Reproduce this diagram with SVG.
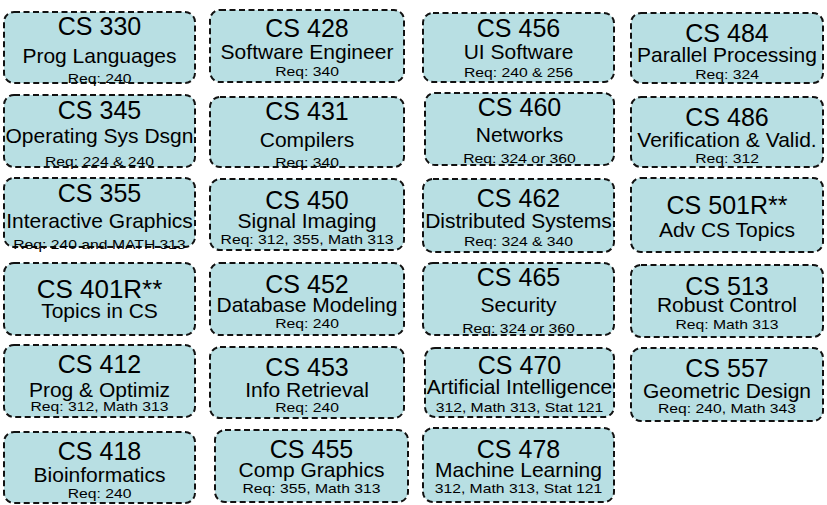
<svg xmlns="http://www.w3.org/2000/svg" width="827" height="505" viewBox="0 0 827 505">
  <style>
    .box { fill: #b8dfe3; stroke: #111; stroke-width: 2; stroke-dasharray: 6 3.5; }
    text { font-family: "Liberation Sans", Arial, sans-serif; fill: #000; text-anchor: middle; }
    .t { font-size: 25px; }
    .m { font-size: 21px; }
    .r { font-size: 13px; }
  </style>
  <rect width="827" height="505" fill="#fff"/>

  <!-- column 1 -->
  <g id="cs330">
    <rect class="box" x="4" y="12" width="191" height="71" rx="10"/>
    <text class="t" x="99.5" y="35">CS 330</text>
    <text class="m" x="99.5" y="63">Prog Languages</text>
    <text class="r" transform="translate(99.5 83) scale(1.21 1)">Req: 240</text>
  </g>
  <g id="cs345">
    <rect class="box" x="4" y="95" width="191" height="72" rx="10"/>
    <text class="t" x="99.5" y="119">CS 345</text>
    <text class="m" x="99.5" y="143">Operating Sys Dsgn</text>
    <text class="r" transform="translate(99.5 166) scale(1.21 1)">Req: 224 &amp; 240</text>
  </g>
  <g id="cs355">
    <rect class="box" x="4" y="178" width="191" height="69" rx="10"/>
    <text class="t" x="99.5" y="202">CS 355</text>
    <text class="m" x="99.5" y="228">Interactive Graphics</text>
    <text class="r" transform="translate(99.5 249) scale(1.21 1)">Req: 240 and MATH 313</text>
  </g>
  <g id="cs401r">
    <rect class="box" x="4" y="263" width="191" height="72" rx="10"/>
    <text class="t" x="99.5" y="298" style="font-size:26px">CS 401R**</text>
    <text class="m" x="99.5" y="318">Topics in CS</text>
  </g>
  <g id="cs412">
    <rect class="box" x="4" y="345" width="191" height="72" rx="10"/>
    <text class="t" x="99.5" y="373">CS 412</text>
    <text class="m" x="99.5" y="397">Prog &amp; Optimiz</text>
    <text class="r" transform="translate(99.5 411) scale(1.21 1)">Req: 312, Math 313</text>
  </g>
  <g id="cs418">
    <rect class="box" x="4" y="432" width="191" height="71" rx="10"/>
    <text class="t" x="99.5" y="460">CS 418</text>
    <text class="m" x="99.5" y="482">Bioinformatics</text>
    <text class="r" transform="translate(99.5 498) scale(1.21 1)">Req: 240</text>
  </g>

  <!-- column 2 -->
  <g id="cs428">
    <rect class="box" x="210" y="10" width="194" height="72" rx="10"/>
    <text class="t" x="307" y="37">CS 428</text>
    <text class="m" x="307" y="59">Software Engineer</text>
    <text class="r" transform="translate(307 76) scale(1.21 1)">Req: 340</text>
  </g>
  <g id="cs431">
    <rect class="box" x="210" y="97" width="194" height="70" rx="10"/>
    <text class="t" x="307" y="120">CS 431</text>
    <text class="m" x="307" y="147">Compilers</text>
    <text class="r" transform="translate(307 167) scale(1.21 1)">Req: 340</text>
  </g>
  <g id="cs450">
    <rect class="box" x="210" y="179" width="194" height="71" rx="10"/>
    <text class="t" x="307" y="209">CS 450</text>
    <text class="m" x="307" y="228">Signal Imaging</text>
    <text class="r" transform="translate(307 244) scale(1.21 1)">Req: 312, 355, Math 313</text>
  </g>
  <g id="cs452">
    <rect class="box" x="210" y="263" width="194" height="72" rx="10"/>
    <text class="t" x="307" y="293">CS 452</text>
    <text class="m" x="307" y="312">Database Modeling</text>
    <text class="r" transform="translate(307 328) scale(1.21 1)">Req: 240</text>
  </g>
  <g id="cs453">
    <rect class="box" x="210" y="347" width="194" height="71" rx="10"/>
    <text class="t" x="307" y="376">CS 453</text>
    <text class="m" x="307" y="397">Info Retrieval</text>
    <text class="r" transform="translate(307 412) scale(1.21 1)">Req: 240</text>
  </g>
  <g id="cs455">
    <rect class="box" x="215" y="430" width="193" height="72" rx="10"/>
    <text class="t" x="311.5" y="458">CS 455</text>
    <text class="m" x="311.5" y="477">Comp Graphics</text>
    <text class="r" transform="translate(311.5 493) scale(1.21 1)">Req: 355, Math 313</text>
  </g>

  <!-- column 3 -->
  <g id="cs456">
    <rect class="box" x="423" y="13" width="191" height="69" rx="10"/>
    <text class="t" x="518.5" y="37">CS 456</text>
    <text class="m" x="518.5" y="59">UI Software</text>
    <text class="r" transform="translate(518.5 77) scale(1.21 1)">Req: 240 &amp; 256</text>
  </g>
  <g id="cs460">
    <rect class="box" x="425" y="93" width="189" height="72" rx="10"/>
    <text class="t" x="519.5" y="116">CS 460</text>
    <text class="m" x="519.5" y="142">Networks</text>
    <text class="r" transform="translate(519.5 163) scale(1.21 1)">Req: 324 or 360</text>
  </g>
  <g id="cs462">
    <rect class="box" x="423" y="179" width="191" height="73" rx="10"/>
    <text class="t" x="518.5" y="207">CS 462</text>
    <text class="m" x="518.5" y="228">Distributed Systems</text>
    <text class="r" transform="translate(518.5 246) scale(1.21 1)">Req: 324 &amp; 340</text>
  </g>
  <g id="cs465">
    <rect class="box" x="423" y="263" width="191" height="72" rx="10"/>
    <text class="t" x="518.5" y="286">CS 465</text>
    <text class="m" x="518.5" y="312">Security</text>
    <text class="r" transform="translate(518.5 333) scale(1.21 1)">Req: 324 or 360</text>
  </g>
  <g id="cs470">
    <rect class="box" x="425" y="348" width="189" height="69" rx="10"/>
    <text class="t" x="519.5" y="374">CS 470</text>
    <text class="m" x="519.5" y="394">Artificial Intelligence</text>
    <text class="r" transform="translate(519.5 412) scale(1.21 1)">312, Math 313, Stat 121</text>
  </g>
  <g id="cs478">
    <rect class="box" x="423" y="428" width="191" height="74" rx="10"/>
    <text class="t" x="518.5" y="458">CS 478</text>
    <text class="m" x="518.5" y="477">Machine Learning</text>
    <text class="r" transform="translate(518.5 493) scale(1.21 1)">312, Math 313, Stat 121</text>
  </g>

  <!-- column 4 -->
  <g id="cs484">
    <rect class="box" x="631" y="13" width="192" height="70" rx="10"/>
    <text class="t" x="727" y="42">CS 484</text>
    <text class="m" x="727" y="62">Parallel Processing</text>
    <text class="r" transform="translate(727 79) scale(1.21 1)">Req: 324</text>
  </g>
  <g id="cs486">
    <rect class="box" x="631" y="97" width="192" height="70" rx="10"/>
    <text class="t" x="727" y="126">CS 486</text>
    <text class="m" x="727" y="147">Verification &amp; Valid.</text>
    <text class="r" transform="translate(727 163) scale(1.21 1)">Req: 312</text>
  </g>
  <g id="cs501r">
    <rect class="box" x="631" y="178" width="192" height="74" rx="10"/>
    <text class="t" x="727" y="214">CS 501R**</text>
    <text class="m" x="727" y="237">Adv CS Topics</text>
  </g>
  <g id="cs513">
    <rect class="box" x="631" y="265" width="192" height="72" rx="10"/>
    <text class="t" x="727" y="295">CS 513</text>
    <text class="m" x="727" y="312">Robust Control</text>
    <text class="r" transform="translate(727 329) scale(1.21 1)">Req: Math 313</text>
  </g>
  <g id="cs557">
    <rect class="box" x="631" y="348" width="192" height="73" rx="10"/>
    <text class="t" x="727" y="377">CS 557</text>
    <text class="m" x="727" y="398">Geometric Design</text>
    <text class="r" transform="translate(727 413) scale(1.21 1)">Req: 240, Math 343</text>
  </g>

  <!-- no connectors between courses -->
  <g id="connectors"/>
</svg>
